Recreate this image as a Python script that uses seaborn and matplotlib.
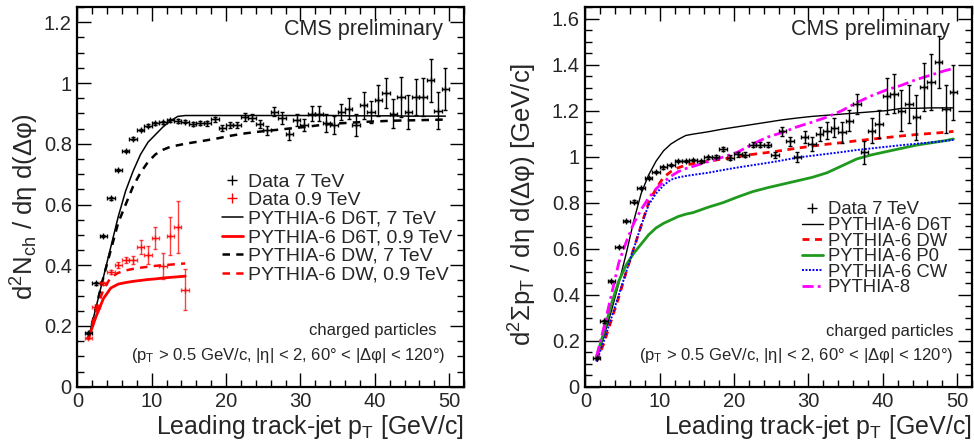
import numpy as np
import pandas as pd
import matplotlib
matplotlib.use("Agg")
import matplotlib.pyplot as plt
from matplotlib.lines import Line2D
from matplotlib.ticker import MultipleLocator, FuncFormatter
import seaborn as sns

# bin centres of the measured points (1 GeV/c bins)
pt_bins = [1.5, 2.5, 3.5, 4.5, 5.5, 6.5, 7.5, 8.5, 9.5, 10.5, 11.5, 12.5, 13.5,
           14.5, 15.5, 16.5, 17.5, 18.5, 19.5, 20.5, 21.5, 22.5, 23.5, 24.5,
           25.5, 26.5, 27.5, 28.5, 29.5, 30.5, 31.5, 32.5, 33.5, 34.5, 35.5,
           36.5, 37.5, 38.5, 39.5, 40.5, 41.5, 42.5, 43.5, 44.5, 45.5, 46.5,
           47.5, 48.5, 49.5]
pt_bins_09 = [1.5, 2.5, 3.5, 4.5, 5.5, 6.5, 7.5, 8.5, 9.5, 10.5, 11.5, 12.5,
              13.5, 14.5]
# points where the MC curves are sampled
mc_pt = [1.5, 2.5, 3.5, 4.5, 5.5, 6.5, 7.5, 8.5, 9.5, 10.5, 11.5, 12.5, 13.5,
         14.5, 16.5, 18.5, 20.5, 22.5, 24.5, 26.5, 28.5, 30.5, 32.5, 34.5,
         36.5, 38.5, 40.5, 42.5, 44.5, 46.5, 48.5, 49.5]
mc_pt_09 = mc_pt[:14]

# ---- left panel: d2Nch / deta dphi ----
nch_7 = [0.177, 0.34, 0.497, 0.62, 0.713, 0.776, 0.817, 0.845, 0.86, 0.867,
         0.871, 0.877, 0.876, 0.873, 0.866, 0.868, 0.868, 0.88, 0.852, 0.862,
         0.862, 0.888, 0.886, 0.866, 0.844, 0.905, 0.886, 0.831, 0.877, 0.861,
         0.899, 0.899, 0.868, 0.861, 0.905, 0.916, 0.861, 0.927, 0.905, 0.943,
         0.967, 0.899, 0.954, 0.905, 0.954, 0.954, 1.009, 0.908, 0.98]
nch_7_err = [0.004, 0.004, 0.004, 0.004, 0.004, 0.004, 0.004, 0.004, 0.004,
             0.004, 0.005, 0.006, 0.006, 0.006, 0.007, 0.007, 0.008, 0.009,
             0.009, 0.01, 0.011, 0.012, 0.012, 0.013, 0.014, 0.015, 0.02,
             0.02, 0.02, 0.02, 0.024, 0.024, 0.03, 0.03, 0.026, 0.036, 0.036,
             0.045, 0.035, 0.05, 0.049, 0.048, 0.065, 0.056, 0.06, 0.063,
             0.071, 0.061, 0.068]
nch_09 = [0.16, 0.263, 0.34, 0.378, 0.40, 0.417, 0.417, 0.46, 0.433, 0.49,
          0.398, 0.496, 0.526, 0.32]
nch_09_err = [0.003, 0.005, 0.005, 0.008, 0.01, 0.01, 0.012, 0.022, 0.03,
              0.036, 0.043, 0.063, 0.087, 0.067]

nch_d6t_7 = [0.16, 0.26, 0.36, 0.46, 0.56, 0.645, 0.71, 0.765, 0.805, 0.83,
             0.855, 0.875, 0.89, 0.893, 0.893, 0.893, 0.893, 0.893, 0.893,
             0.893, 0.893, 0.893, 0.893, 0.893, 0.892, 0.892, 0.892, 0.892,
             0.891, 0.891, 0.891, 0.891]
nch_dw_7 = [0.16, 0.26, 0.36, 0.45, 0.54, 0.6, 0.66, 0.705, 0.74, 0.765, 0.78,
            0.79, 0.795, 0.8, 0.808, 0.816, 0.826, 0.834, 0.84, 0.845, 0.85,
            0.855, 0.861, 0.866, 0.869, 0.872, 0.874, 0.876, 0.877, 0.878,
            0.879, 0.88]
nch_d6t_09 = [0.16, 0.23, 0.29, 0.325, 0.338, 0.343, 0.347, 0.35, 0.353,
              0.355, 0.358, 0.36, 0.362, 0.364]
nch_dw_09 = [0.16, 0.25, 0.32, 0.36, 0.375, 0.383, 0.388, 0.392, 0.395, 0.398,
             0.4, 0.402, 0.404, 0.406]

# ---- right panel: d2SumPt / deta dphi ----
sumpt_7 = [0.125, 0.284, 0.459, 0.607, 0.72, 0.805, 0.865, 0.907, 0.933,
           0.953, 0.965, 0.98, 0.98, 0.985, 0.98, 0.997, 1.0, 1.032, 0.996,
           1.01, 1.009, 1.052, 1.052, 1.052, 1.009, 1.11, 1.067, 1.0, 1.084,
           1.055, 1.099, 1.113, 1.125, 1.106, 1.157, 1.23, 1.019, 1.113,
           1.143, 1.262, 1.274, 1.2, 1.23, 1.172, 1.302, 1.324, 1.411, 1.208,
           1.28]
sumpt_7_err = [0.005, 0.005, 0.005, 0.005, 0.005, 0.005, 0.005, 0.005, 0.005,
               0.005, 0.005, 0.005, 0.005, 0.005, 0.006, 0.006, 0.007, 0.008,
               0.009, 0.01, 0.01, 0.011, 0.012, 0.012, 0.013, 0.019, 0.02,
               0.022, 0.026, 0.029, 0.032, 0.036, 0.041, 0.045, 0.044, 0.044,
               0.051, 0.053, 0.061, 0.078, 0.085, 0.09, 0.082, 0.098, 0.105,
               0.12, 0.112, 0.105, 0.12]
sumpt_d6t = [0.12, 0.22, 0.33, 0.45, 0.58, 0.72, 0.84, 0.92, 0.98, 1.025,
             1.055, 1.075, 1.092, 1.098, 1.108, 1.12, 1.13, 1.14, 1.15, 1.16,
             1.168, 1.175, 1.18, 1.185, 1.19, 1.195, 1.2, 1.21, 1.21, 1.212,
             1.212, 1.212]
sumpt_dw = [0.11, 0.19, 0.29, 0.39, 0.5, 0.6, 0.7, 0.8, 0.86, 0.91, 0.935,
            0.952, 0.963, 0.97, 0.98, 0.99, 1.0, 1.01, 1.018, 1.027, 1.037,
            1.046, 1.054, 1.061, 1.069, 1.076, 1.083, 1.09, 1.096, 1.101,
            1.106, 1.11]
sumpt_p0 = [0.13, 0.24, 0.36, 0.46, 0.53, 0.58, 0.62, 0.66, 0.69, 0.71,
            0.725, 0.74, 0.75, 0.757, 0.78, 0.8, 0.825, 0.848, 0.865, 0.88,
            0.895, 0.91, 0.93, 0.96, 0.99, 1.008, 1.022, 1.036, 1.05, 1.06,
            1.07, 1.077]
sumpt_cw = [0.11, 0.2, 0.3, 0.4, 0.5, 0.6, 0.7, 0.79, 0.84, 0.875, 0.9, 0.91,
            0.916, 0.921, 0.93, 0.942, 0.953, 0.963, 0.973, 0.984, 0.996,
            1.004, 1.012, 1.02, 1.029, 1.036, 1.043, 1.05, 1.056, 1.062,
            1.069, 1.073]
sumpt_p8 = [0.13, 0.26, 0.4, 0.54, 0.63, 0.71, 0.77, 0.82, 0.86, 0.89, 0.915,
            0.935, 0.948, 0.958, 0.978, 0.998, 1.02, 1.055, 1.085, 1.105,
            1.13, 1.15, 1.172, 1.2, 1.235, 1.265, 1.29, 1.31, 1.335, 1.355,
            1.375, 1.383]

GREEN = "#1f9a1f"

sns.set_theme(style="ticks")
plt.rcParams["font.family"] = ["Liberation Sans", "DejaVu Sans"]
plt.rcParams["mathtext.fontset"] = "custom"
plt.rcParams["mathtext.rm"] = "Liberation Sans"
plt.rcParams["mathtext.default"] = "regular"

fig = plt.figure(figsize=(9.74, 4.43), dpi=100)
ax1 = fig.add_axes([0.0794, 0.127, 0.397, 0.857])
ax2 = fig.add_axes([0.601, 0.127, 0.397, 0.857])


def mc_line(ax, x, y, color, lw, ls):
    sns.lineplot(x=x, y=y, ax=ax, color=color, lw=lw, linestyle=ls,
                 estimator=None, sort=False, legend=False)


def data_points(ax, x, y, err, color, alpha=1.0):
    ax.errorbar(x, y, xerr=0.5, yerr=err, fmt="+", color=color, ms=5,
                mew=1.0, elinewidth=1.0, capsize=1.6, capthick=1.0,
                alpha=alpha, zorder=5)


# left panel
mc_line(ax1, mc_pt, nch_d6t_7, "black", 1.1, "-")
mc_line(ax1, mc_pt_09, nch_d6t_09, "red", 2.0, "-")
mc_line(ax1, mc_pt, nch_dw_7, "black", 1.8, (0, (3, 2.5)))
mc_line(ax1, mc_pt_09, nch_dw_09, "red", 1.8, (0, (3, 2.5)))
data_points(ax1, pt_bins, nch_7, nch_7_err, "black")
data_points(ax1, pt_bins_09, nch_09, nch_09_err, "red", alpha=0.75)

# right panel
mc_line(ax2, mc_pt, sumpt_d6t, "black", 1.0, "-")
mc_line(ax2, mc_pt, sumpt_dw, "red", 2.0, (0, (2.5, 2)))
mc_line(ax2, mc_pt, sumpt_p0, GREEN, 2.0, "-")
mc_line(ax2, mc_pt, sumpt_cw, "blue", 1.4, (0, (1, 0.8)))
mc_line(ax2, mc_pt, sumpt_p8, "magenta", 2.0, (0, (4, 1.5, 1, 1.5)))
data_points(ax2, pt_bins, sumpt_7, sumpt_7_err, "black")

fmt = FuncFormatter(lambda v, p: f"{v:g}")
for ax, ytop in [(ax1, 1.25), (ax2, 1.65)]:
    ax.set_xlim(0, 52)
    ax.set_ylim(0, ytop)
    ax.xaxis.set_major_locator(MultipleLocator(10))
    ax.xaxis.set_minor_locator(MultipleLocator(2))
    ax.yaxis.set_major_locator(MultipleLocator(0.2))
    ax.yaxis.set_minor_locator(MultipleLocator(0.05))
    ax.yaxis.set_major_formatter(fmt)
    ax.xaxis.set_major_formatter(fmt)
    ax.tick_params(which="both", direction="in", top=True, right=True,
                   labelsize=14.5, pad=4, color="black", width=1.0)
    ax.tick_params(which="major", length=10)
    ax.tick_params(which="minor", length=5)
    for s in ax.spines.values():
        s.set_linewidth(1.6)
        s.set_color("black")
    ax.set_xlabel("Leading track-jet p$_{T}$ [GeV/c]", fontsize=18,
                  ha="right", x=1.0)
    ax.xaxis.set_label_coords(1.0, -0.068)
    ax.xaxis.label.set_va("top")
    ax.text(0.946 if ax is ax1 else 0.943, 0.94, "CMS preliminary",
            transform=ax.transAxes, ha="right", va="center", fontsize=15.5)

ax1.text(0.93, 0.149, "charged particles", transform=ax1.transAxes,
         ha="right", va="center", fontsize=12)
ax1.text(0.951, 0.083,
         "(p$_{T}$ > 0.5 GeV/c, |η| < 2, 60° < |Δφ| < 120°)",
         transform=ax1.transAxes, ha="right", va="center", fontsize=12)
ax2.text(0.951, 0.145, "charged particles", transform=ax2.transAxes,
         ha="right", va="center", fontsize=12)
ax2.text(0.953, 0.083,
         "(p$_{T}$ > 0.5 GeV/c, |η| < 2, 60° < |Δφ| < 120°)",
         transform=ax2.transAxes, ha="right", va="center", fontsize=12)

ax1.set_ylabel("d$^{2}$N$_{ch}$ / dη d(Δφ)", fontsize=18.5, va="center",
               ha="right")
ax1.yaxis.set_label_coords(-0.135, 0.72)
ax2.set_ylabel("d$^{2}$Σp$_{T}$ / dη d(Δφ) [GeV/c]", fontsize=18.5,
               va="center", ha="right")
ax2.yaxis.set_label_coords(-0.161, 0.853)

# legends
h1 = [Line2D([], [], color="black", marker="+", ls="none", ms=7, mew=1.0),
      Line2D([], [], color="red", marker="+", ls="none", ms=7, mew=1.0),
      Line2D([], [], color="black", lw=1.1),
      Line2D([], [], color="red", lw=2.0),
      Line2D([], [], color="black", lw=1.8, ls=(0, (3, 2.5))),
      Line2D([], [], color="red", lw=1.8, ls=(0, (3, 2.5)))]
l1 = ["Data 7 TeV", "Data 0.9 TeV", "PYTHIA-6 D6T, 7 TeV",
      "PYTHIA-6 D6T, 0.9 TeV", "PYTHIA-6 DW, 7 TeV", "PYTHIA-6 DW, 0.9 TeV"]
ax1.legend(h1, l1, loc="upper left", bbox_to_anchor=(0.373, 0.563),
           frameon=False, fontsize=14, handlelength=1.1, handletextpad=0.25,
           labelspacing=0.05, borderpad=0, borderaxespad=0)

h2 = [Line2D([], [], color="black", marker="+", ls="none", ms=7, mew=1.0),
      Line2D([], [], color="black", lw=1.0),
      Line2D([], [], color="red", lw=2.0, ls=(0, (2.5, 2))),
      Line2D([], [], color=GREEN, lw=2.0),
      Line2D([], [], color="blue", lw=1.4, ls=(0, (1, 0.8))),
      Line2D([], [], color="magenta", lw=2.0, ls=(0, (4, 1.5, 1, 1.5)))]
l2 = ["Data 7 TeV", "PYTHIA-6 D6T", "PYTHIA-6 DW", "PYTHIA-6 P0",
      "PYTHIA-6 CW", "PYTHIA-8"]
ax2.legend(h2, l2, loc="upper left", bbox_to_anchor=(0.56, 0.488),
           frameon=False, fontsize=13.3, handlelength=1.14, handletextpad=0.27,
           labelspacing=-0.08, borderpad=0, borderaxespad=0)

fig.savefig("out.png", dpi=100)
